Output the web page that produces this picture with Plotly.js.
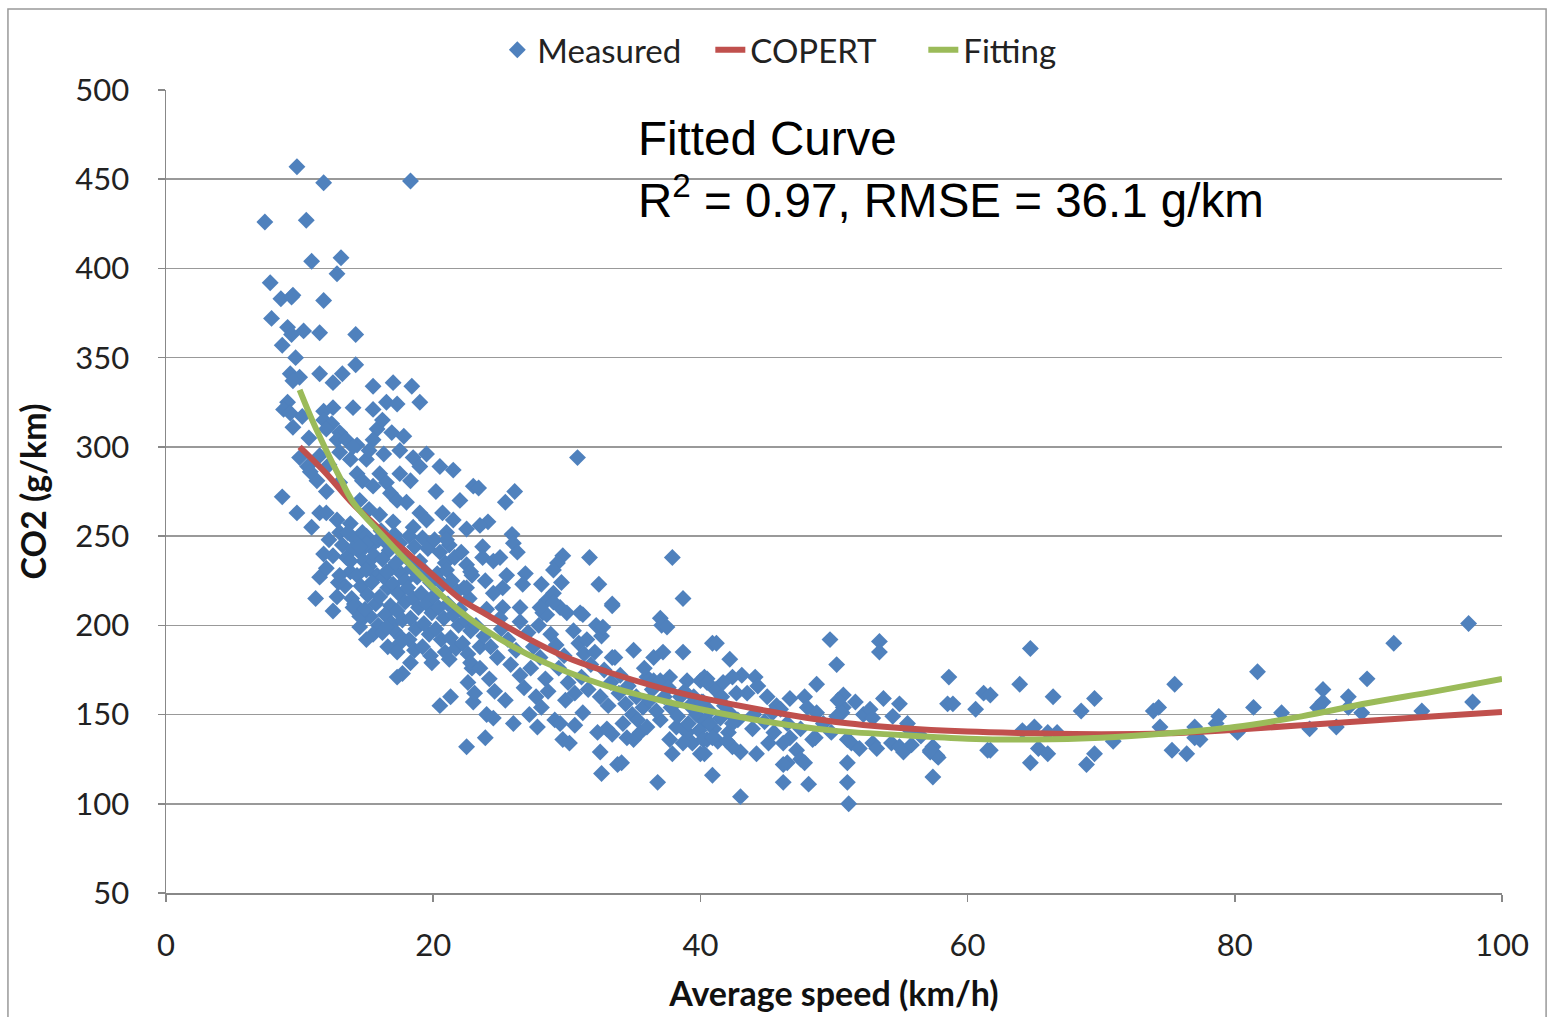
<!DOCTYPE html>
<html>
<head>
<meta charset="utf-8">
<script src="https://cdn.plot.ly/plotly-3.0.1.min.js"></script>
<style>
html,body{margin:0;padding:0;background:#fff;}
#chart{width:1548px;height:1017px;}
</style>
</head>
<body>
<div id="chart"></div>
<script>
// ---- Measured points (speed km/h, CO2 g/km), grouped by region ----
const measuredHighLowSpeed = [
 [9.8,457],[11.8,448],[18.3,449],[7.4,426],[10.5,427],[10.9,404],[13.1,406],[12.8,397],[7.8,392],
 [8.6,383],[9.5,385],[9.4,384],[11.8,382],[7.9,372],[9.1,367],[9.4,363],[10.3,365],[11.5,364],
 [14.2,363],[8.7,357],[9.7,350],[9.3,341],[10.0,339],[9.5,337],[11.5,341],[13.2,341],[14.2,346],
 [12.5,336],[15.5,334],[17.0,336],[18.4,334],[19.0,325],[9.1,325],[8.8,321],[9.3,319],[10.2,317],
 [11.8,320],[12.5,322],[14.0,322],[15.5,321],[16.5,325],[17.3,324],[9.5,311],[11.8,315],[12.4,313],
 [13.0,308],[12.0,310],[12.8,304],[13.5,304],[14.3,301],[15.8,310],[16.9,308],[16.2,315],[15.5,304],
 [17.8,306],[10.7,305]
];
const measuredUpperBand = [
 [13.0,297],[13.8,293],[14.3,285],[15.0,293],[14.7,281],[16.0,285],[16.5,280],[15.5,278],[16.8,274],
 [17.5,285],[18.5,294],[19.0,289],[18.3,281],[17.3,270],[18.0,269],[19.0,263],[19.5,259],[20.5,289],
 [21.5,287],[20.7,263],[21.5,259],[23.0,278],[10.0,294],[10.6,289],[11.3,281],[10.8,286],[8.7,272],
 [9.8,263],[11.5,263],[10.9,255],[12.0,263],[12.8,259],[13.8,257],[13.0,252],[14.5,270],[15.2,265],
 [16.0,262],[17.0,258],[18.5,255],[12.0,275],[13.0,280],[11.5,295],[12.2,290],[14.0,300],[15.2,298],
 [16.3,296],[17.5,298],[19.5,296],[20.2,275],[22.0,270],[24.1,258],[21.0,252],[22.5,254]
];
const measuredCore = [
 [13.2,245],[13.5,238],[13.8,230],[13.4,222],[13.9,215],[13.6,252],
 [14.2,248],[14.5,241],[14.8,236],[14.3,228],[14.6,222],[14.1,212],[14.9,205],[14.5,199],[14.7,252],[14.0,243],
 [15.0,250],[15.3,244],[15.6,239],[15.2,233],[15.8,228],[15.4,224],[15.1,217],[15.7,212],[15.3,205],[15.9,200],[15.5,195],[15.0,246],[15.9,248],
 [16.1,253],[16.4,247],[16.7,242],[16.2,237],[16.9,232],[16.3,227],[16.6,221],[16.0,216],[16.8,211],[16.4,206],[16.9,201],[16.2,196],[16.6,188],[16.5,230],
 [17.1,251],[17.5,246],[17.8,240],[17.2,235],[17.6,229],[17.0,223],[17.4,218],[17.9,213],[17.3,208],[17.7,203],[17.1,197],[17.6,193],[17.9,225],
 [18.2,250],[18.6,244],[18.0,238],[18.4,232],[18.8,227],[18.1,221],[18.5,215],[18.9,210],[18.3,204],[18.7,198],[18.2,192],[18.6,186],
 [19.2,249],[19.6,243],[19.0,236],[19.4,230],[19.8,224],[19.1,218],[19.5,212],[19.9,207],[19.3,201],[19.7,195],[19.2,188],[19.8,183],
 [20.1,248],[20.5,241],[20.9,235],[20.3,229],[20.7,223],[20.0,216],[20.4,210],[20.8,204],[20.2,198],[20.6,192],[20.9,185],
 [21.2,245],[21.6,238],[21.0,231],[21.4,225],[21.8,219],[21.1,212],[21.5,206],[21.9,200],[21.3,193],[21.7,187],[21.2,181],
 [22.1,241],[22.5,234],[22.9,228],[22.3,221],[22.7,215],[22.0,209],[22.4,203],[22.8,197],[22.2,190],[22.6,184],[22.9,176],
 [11.5,227],[12.9,224],[11.2,215],[12.8,216],[12.5,239],[13.8,236],[14.5,244],[15.0,231],[14.0,210],[14.5,205],
 [14.9,209],[15.0,192],[16.5,199],[17.5,190],[17.3,185],[17.7,173],[17.3,171],[18.3,179],[19.9,179],[20.5,155],
 [21.3,160],[23.0,157],[21.0,248],[22.8,179],[23.5,188],[12.2,248],[12.0,232],[11.8,240],[13.0,228],[12.5,208]
];
const measuredMidSpeed = [
 [23.4,277],[26.1,275],[25.4,269],[23.5,256],[25.9,251],[26.0,246],[26.3,241],[23.7,244],[23.7,238],
 [24.5,236],[25.0,238],[29.7,239],[29.3,235],[29.0,231],[31.7,238],[37.9,238],[38.7,215],[32.4,223],
 [33.4,212],[26.9,229],[26.7,223],[28.1,223],[29.6,224],[25.5,228],[25.2,221],[24.5,218],[23.9,225],
 [22.8,230],[22.5,221],[28.5,214],[29.0,218],[29.5,210],[30.0,207],[31.0,207],[28.2,207],[26.5,210],
 [25.2,210],[24.0,209],[37.0,204],[30.8,294],
 [23.2,200],[23.8,194],[24.3,188],[24.8,182],[23.5,176],[24.2,170],[25.1,198],[25.6,192],[26.2,186],
 [25.8,178],[26.5,172],[27.1,196],[27.5,188],[28.0,182],[27.3,176],[28.4,170],[28.8,195],[29.2,189],
 [29.8,183],[29.4,176],[30.1,168],[30.5,197],[30.9,190],[31.3,184],[31.8,178],[31.1,171],[31.6,164],
 [24.6,163],[25.4,158],[26.8,165],[27.7,160],[28.6,163],[29.9,158],[30.6,162],[22.6,168],[23.1,162],
 [24.0,150],[26.0,145],[27.2,150],[28.1,154],[29.1,147],[26.5,202],[27.9,200],[25.0,204],[32.5,160],
 [32.2,200],[32.6,194],
 [33.4,211],[37.1,200],[37.5,199],[32.7,199],[36.5,182],[37.2,185],[38.7,185],[40.9,190],[32.1,185],
 [33.4,182],[31.5,192],[31.2,206],[28.5,206],[28.0,210],[29.0,213],[22.5,132],[23.9,137],[24.5,148],
 [27.8,143],[29.5,145],[29.7,136],[30.2,134],[32.5,129],[32.6,117],[33.8,122],[34.1,123],[36.8,112],
 [37.9,128],[40.9,116],[32.3,140],[33.0,142],[33.4,139],[30.6,144],[31.2,151],[34.5,137],[35.0,136],
 [35.5,140],[36.0,143],[37.0,147],[38.2,143],[39.0,140],[39.4,134],[40.0,128],[40.5,136],[38.7,134],
 [37.7,136],[36.0,171],[36.5,169],[37.0,169],[37.7,171],[39.0,169],[40.0,169],[40.5,170],[41.1,164]
];
const measuredCruise = [
 [32.8,175],[33.3,168],[33.9,162],[34.4,156],[34.9,150],[33.1,155],[34.0,172],[34.6,166],[35.2,160],
 [35.7,154],[35.3,147],[36.2,158],[36.7,152],[36.4,164],[37.3,160],[37.8,154],[38.3,149],[37.6,165],
 [38.5,160],[39.2,155],[39.7,150],[39.1,145],[38.8,163],[39.5,160],[40.2,157],[40.7,152],[40.3,146],
 [41.0,142],[41.5,148],[41.8,155],[42.3,150],[42.8,147],[42.1,140],[41.3,135],[39.9,141],[41.6,160],
 [34.2,145],[35.8,176],[33.6,182],[35.0,186],
 [41.2,190],[42.2,181],[49.7,192],[53.4,191],[53.4,185],[50.2,178],[58.6,171],[61.2,162],[58.5,156],
 [58.9,156],[60.6,153],[61.5,130],[57.4,115],[57.8,126],[57.2,129],[43.0,104],[46.2,112],[48.1,111],
 [51.0,112],[51.0,123],[51.1,100],[48.7,167],[50.7,161],[51.6,157],[50.7,154],[53.7,159],[54.9,156],
 [52.2,150],[52.7,153],[52.9,148],[54.4,149],[55.5,145],[46.7,159],[47.8,160],[48.0,154],[45.0,160],
 [45.7,155],[46.0,153],[44.1,171],[44.3,166],[43.1,172],[42.4,171],[41.7,168],[40.3,171],[40.5,168],
 [43.5,162],[42.7,162],[48.7,151],[48.6,137],[48.4,136],[46.7,137],[46.2,134],[47.2,130],[46.5,123],
 [47.5,125],[47.8,123],[46.2,122],[45.1,134],[44.2,128],[43.0,129],[42.4,132],[42.0,135],[43.9,142],
 [42.4,145],[40.7,145],[40.2,136],[40.3,128],[40.9,137],[40.1,157],[45.4,151],[50.3,158],[50.6,151],
 [50.2,149],[51.0,136],[51.3,134],[51.9,131],[52.9,134],[53.2,131],[54.3,134],[54.9,132],[55.2,129],
 [57.4,132],[57.7,127],[57.2,130],[44.8,146],[46.5,145],[47.5,142],[49.2,145],[49.8,140],[45.5,140],
 [44.0,150],[55.7,141],[56.5,138],[55.8,133]
];
const measuredHighSpeed = [
 [64.7,187],[63.9,167],[66.4,160],[68.5,152],[69.5,159],[68.9,122],[69.5,128],[64.7,123],[65.3,131],
 [66.0,128],[64.1,141],[65.0,143],[66.0,140],[66.7,140],[61.7,130],[61.7,161],[70.9,135],[73.9,152],
 [74.3,154],[74.4,143],[75.5,167],[75.3,130],[76.4,128],[77.0,143],[77.4,136],[77.0,137],[78.8,149],
 [78.6,145],[80.2,140],[81.7,174],[81.4,154],[83.5,151],[85.6,142],[86.2,154],[86.6,157],[86.6,164],
 [87.6,143],[88.5,160],[88.5,154],[89.5,151],[89.9,170],[91.9,190],[94.0,152],[97.5,201],[97.8,157]
];

// ---- COPERT curve ----
const copertSpeed = [10,12,14,16,18,20,22,24,27,30,33,37,40,45,50,55,60,65,70,75,80,85,90,95,100];
const copertCO2   = [300,285,268,254,241,228,215,206,193,182,174,165,159.5,152,146,142.5,140.5,139.5,139,139.5,141.5,144,146.5,149,151.5];

// ---- Fitting curve ----
const fitSpeed = [10,11,12,13,14,16,18,20,22,24,27,30,33,37,40,45,50,55,60,65,70,75,80,85,90,95,100];
const fitCO2   = [332,314,298,283,269,252,236,221,208,197,184,174,166,158,153,146,141,138.5,136.5,136,137,139.5,143,149,156.5,163,170];

// ---- Axis ticks ----
const xTicks = [0,20,40,60,80,100];
const yTicks = [50,100,150,200,250,300,350,400,450,500];

const allMeasured = [].concat(measuredHighLowSpeed, measuredUpperBand, measuredCore,
                              measuredMidSpeed, measuredCruise, measuredHighSpeed);
const measuredSpeed = allMeasured.map(p => p[0]);
const measuredCO2 = allMeasured.map(p => p[1]);

const FONT = 'Lato, "Open Sans", sans-serif';

const traces = [
  {
    type: 'scatter', mode: 'markers', name: 'Measured',
    x: measuredSpeed, y: measuredCO2,
    marker: {symbol: 'diamond', size: 13, color: '#4F81BD', line: {width: 0}},
    cliponaxis: false
  },
  {
    type: 'scatter', mode: 'lines', name: 'COPERT',
    x: copertSpeed, y: copertCO2,
    line: {color: '#C0504D', width: 6, shape: 'spline', smoothing: 1}
  },
  {
    type: 'scatter', mode: 'lines', name: 'Fitting',
    x: fitSpeed, y: fitCO2,
    line: {color: '#9BBB59', width: 6, shape: 'spline', smoothing: 1}
  }
];

const layout = {
  width: 1548, height: 1017,
  margin: {l: 166, r: 46, t: 90, b: 124, pad: 0},
  paper_bgcolor: '#ffffff', plot_bgcolor: '#ffffff',
  font: {family: FONT, size: 31, color: '#222'},
  showlegend: true,
  legend: {
    orientation: 'h', x: 0.248, xanchor: 'left', y: 1.05, yanchor: 'middle',
    font: {family: FONT, size: 33, color: '#222'},
    itemwidth: 30, tracegroupgap: 0, bgcolor: 'rgba(0,0,0,0)',
    entrywidth: 168, entrywidthmode: 'pixels'
  },
  xaxis: {
    range: [0, 100], tickvals: xTicks, ticktext: xTicks.map(String),
    showgrid: false, zeroline: false,
    showline: true, linecolor: '#888', linewidth: 1.5,
    ticks: 'outside', ticklen: 7, tickcolor: '#888', tickwidth: 1.5,
    ticklabelstandoff: 17,
    tickfont: {family: FONT, size: 31, color: '#222'},
    title: {text: '<b>Average speed (km/h)</b>', font: {family: FONT, size: 34, color: '#111'}, standoff: 20}
  },
  yaxis: {
    range: [50, 500], tickvals: yTicks, ticktext: yTicks.map(String),
    showgrid: true, gridcolor: '#999', gridwidth: 1.5, zeroline: false,
    showline: true, linecolor: '#888', linewidth: 1.5,
    ticks: 'outside', ticklen: 7, tickcolor: '#888', tickwidth: 1.5,
    ticklabelstandoff: 22,
    tickfont: {family: FONT, size: 31, color: '#222'},
    title: {text: '<b>CO2 (g/km)</b>', font: {family: FONT, size: 34, color: '#111'}, standoff: 18}
  },
  annotations: [{
    xref: 'paper', yref: 'paper', x: 0.3518, y: 0.975, xanchor: 'left', yanchor: 'top',
    align: 'left', showarrow: false,
    text: 'Fitted Curve<br>R<sup>2</sup> = 0.97, RMSE = 36.1 g/km',
    font: {family: '"Liberation Sans", Arial, sans-serif', size: 47.5, color: '#000'}
  }],
  shapes: [{
    type: 'rect', xref: 'paper', yref: 'paper', layer: 'below',
    x0: -0.1183, x1: 1.033, y0: -0.3, y1: 1.1009,
    line: {color: '#999', width: 1.5}, fillcolor: 'rgba(0,0,0,0)'
  }]
};

Plotly.newPlot('chart', traces, layout, {staticPlot: true, displayModeBar: false});
</script>
</body>
</html>
